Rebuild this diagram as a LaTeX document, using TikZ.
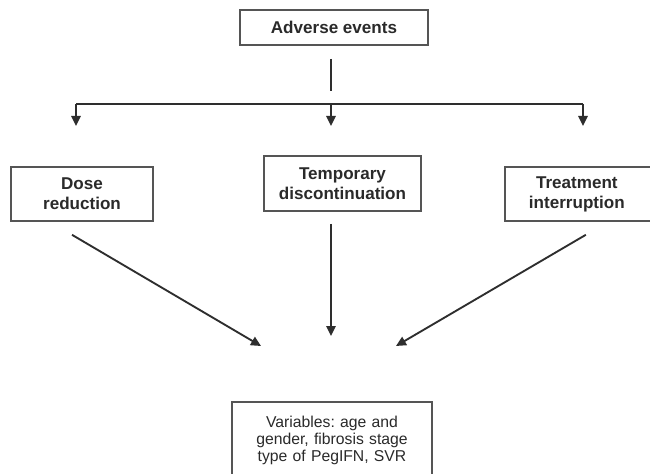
\documentclass[tikz,border=0pt]{standalone}
\usepackage{fontspec}
\setmainfont{Liberation Sans}
\usetikzlibrary{arrows.meta}
\definecolor{linec}{HTML}{2E2E2E}
\definecolor{boxc}{HTML}{555555}
\definecolor{txtc}{HTML}{2A2A2A}
\frenchspacing
\begin{document}
\begin{tikzpicture}[x=0.75pt,y=-0.75pt,
  boxnode/.style={draw=boxc,line width=1.2pt,inner sep=0pt,align=center,text=txtc,
    font=\fontsize{12.8pt}{15pt}\selectfont\bfseries},
  conn/.style={draw=linec,line width=1.4pt},
  arr/.style={conn,-{Triangle[length=7.5pt,width=7pt]}}]
\useasboundingbox (0,0) rectangle (650,474);
\clip (0,0) rectangle (650,474);
\fill[white] (0,0) rectangle (650,474);
% nodes
\node[boxnode,minimum width=141pt,minimum height=26.25pt] (ae) at (334,27.5) {Adverse events};
\node[boxnode,minimum width=106.5pt,minimum height=40.5pt] (dose) at (82,194) {Dose\\reduction};
\node[boxnode,minimum width=117.75pt,minimum height=41.25pt] (temp) at (342.5,183.5) {Temporary\\discontinuation};
\node[boxnode,minimum width=110.25pt,minimum height=40.5pt] (treat) at (578.5,194) {\hspace*{-2.5pt}Treatment\\\hspace*{-2.5pt}interruption};
\node[anchor=north,text width=150pt,inner xsep=0pt,inner ysep=10pt,align=center,text=txtc,
  font=\fontsize{11.8pt}{13.1pt}\selectfont] (vars) at (332,402)
  {Variables: age and\\gender, fibrosis stage\\type of PegIFN, SVR};
\draw[draw=boxc,line width=1.2pt] ([yshift=-30pt]vars.south west) -- (vars.north west) -- (vars.north east) -- ([yshift=-30pt]vars.south east);
% split coordinates
\coordinate (split) at (331,104);
\coordinate (hl) at (76,104);
\coordinate (hr) at (583,104);
\coordinate (dl) at (76,126);
\coordinate (dm) at (331,126);
\coordinate (dr) at (583,126);
\coordinate (t1) at (261,346);
\coordinate (t2) at (331,336);
\coordinate (t3) at (396,346);
% connectors
\draw[conn,shorten <=9.75pt,shorten >=9.75pt] (ae.south -| split) -- (split);
\draw[conn] (hl) -- (hr);
\draw[arr] (hl) -- (dl);
\draw[arr] (split) -- (dm);
\draw[arr] (hr) -- (dr);
\draw[arr] ([xshift=-7.5pt,yshift=-9.75pt]dose.south) -- (t1);
\draw[arr,shorten <=9pt] (temp.south -| t2) -- (t2);
\draw[arr] ([xshift=5.5pt,yshift=-9.75pt]treat.south) -- (t3);
\end{tikzpicture}
\end{document}
